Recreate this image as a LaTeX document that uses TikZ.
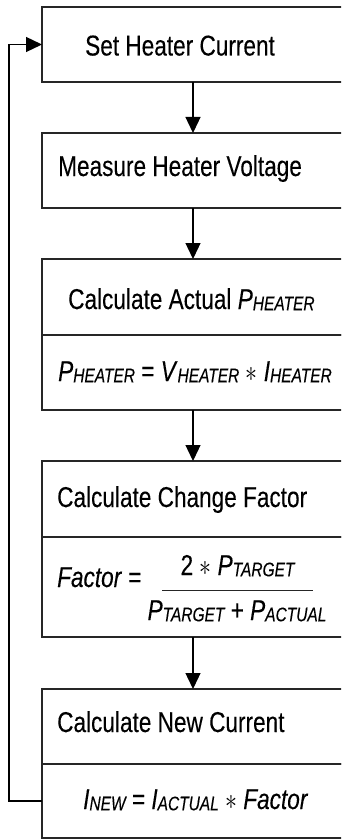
\documentclass[tikz,border=0pt]{standalone}
\usepackage{fontspec}
\setmainfont{Liberation Sans}[FakeBold=0.2]
\usetikzlibrary{arrows.meta}
\newcommand{\vs}[1]{\scalebox{1}[1.27]{#1}}
\newcommand{\sbs}[1]{\raisebox{-1pt}{\fontsize{15.5}{16}\selectfont\itshape #1}}
\newcommand{\astr}{\scalebox{1.15}{$\ast$}}
\begin{document}
\begin{tikzpicture}[x=1pt,y=-1pt,
  box/.style={draw=black!85, line width=1.4pt, rectangle, minimum width=302pt, anchor=north west, inner sep=0pt, outer sep=0pt},
  lbl/.style={anchor=base west, inner sep=0pt, font=\fontsize{22.6}{27}\selectfont},
  arr/.style={line width=1.3pt, -{Triangle[length=16pt,width=15pt]}}]
\useasboundingbox (0,0) rectangle (341,840);
\clip (0,0) rectangle (341,840);
\fill[white] (0,0) rectangle (341,840);
% boxes
\node[box, minimum height=75pt] (b1) at (42,7) {};
\node[box, minimum height=75pt] (b2) at (42,133) {};
\node[box, minimum height=76pt] (b3a) at (42,259) {};
\node[box, minimum height=75pt] (b3b) at (42,335) {};
\node[box, minimum height=76pt] (b4a) at (42,461) {};
\node[box, minimum height=100pt] (b4b) at (42,537) {};
\node[box, minimum height=75pt] (b5a) at (42,689) {};
\node[box, minimum height=74pt] (b5b) at (42,764) {};
% connectors
\draw[arr] (b1.south) -- (b2.north);
\draw[arr] (b2.south) -- (b3a.north);
\draw[arr] (b3b.south) -- (b4a.north);
\draw[arr] (b4b.south) -- (b5a.north);
\draw[arr] (b5b.west) -- ++(-33,0) |- (b1.west);
% texts
\node[lbl] (t1) at (85,55.5) {\vs{Set Heater Current}};
\node[lbl] (t2) at (58,176) {\vs{Measure Heater Voltage}};
\node[lbl] (t3) at (68,309) {\vs{Calculate Actual \textit{P}\sbs{HEATER}}};
\node[lbl] (t4) at (58,381) {\vs{\textit{P}\sbs{HEATER} = \textit{V}\sbs{HEATER} \astr{} \textit{I}\sbs{HEATER}}};
\node[lbl] (t5) at (57,507) {\vs{Calculate Change Factor}};
\node[lbl] (t6) at (57,587) {\vs{\textit{Factor} =}};
\node[lbl, anchor=base] (t7) at (237.5,575) {\vs{2 \astr{} \textit{P}\sbs{TARGET}}};
\coordinate (fl) at (162,590);
\coordinate (fr) at (313,590);
\draw[line width=1pt, black!85] (fl) -- (fr);
\node[lbl, anchor=base] (t8) at (237,620) {\vs{\textit{P}\sbs{TARGET} + \textit{P}\sbs{ACTUAL}}};
\node[lbl] (t9) at (57,732) {\vs{Calculate New Current}};
\node[lbl] (t10) at (83,809) {\vs{\textit{I}\sbs{NEW} = \textit{I}\sbs{ACTUAL} \astr{} \textit{Factor}}};
\end{tikzpicture}
\end{document}
